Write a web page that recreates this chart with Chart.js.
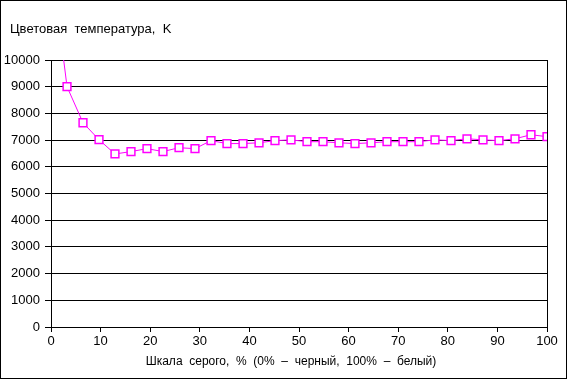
<!DOCTYPE html>
<html lang="ru">
<head>
  <meta charset="UTF-8" />
  <title>Цветовая температура</title>
  <script src="https://cdn.jsdelivr.net/npm/chart.js"></script>
  <style>
    body { margin: 0; background: #fff; }
    .wrap { position: relative; width: 567px; height: 379px; }
  </style>
</head>
<body>
  <div class="wrap"><canvas id="chart" width="567" height="379"></canvas></div>
  <script>
    // grey level, % (32 steps from black to white)
    const greyLevels = [
      0, 3.23, 6.45, 9.68, 12.9, 16.13, 19.35, 22.58, 25.81, 29.03,
      32.26, 35.48, 38.71, 41.94, 45.16, 48.39, 51.61, 54.84, 58.06, 61.29,
      64.52, 67.74, 70.97, 74.19, 77.42, 80.65, 83.87, 87.1, 90.32, 93.55,
      96.77, 100
    ];
    // colour temperature, K
    const colorTemp = [
      13800, 9000, 7650, 7015, 6480, 6570, 6680, 6570, 6715, 6680,
      6980, 6870, 6870, 6900, 6980, 7010, 6940, 6940, 6900, 6870,
      6900, 6940, 6940, 6940, 7010, 6980, 7050, 7010, 6980, 7050,
      7200, 7130
    ];
    const yTitle = "Цветовая  температура,  K";
    const xTitle = "Шкала  серого,  %  (0%  –  черный,  100%  –  белый)";

    const family = "'Liberation Sans', Arial, sans-serif";
    const tickFont = { family, size: 13 };

    const frame = {
      id: "frame",
      afterDraw(chart) {
        const { ctx, chartArea } = chart;
        ctx.save();
        ctx.strokeStyle = "#000";
        ctx.lineWidth = 1;
        ctx.strokeRect(0.5, 0.5, 566, 378);
        ctx.beginPath();
        ctx.moveTo(Math.round(chartArea.right) + 0.5, chartArea.top);
        ctx.lineTo(Math.round(chartArea.right) + 0.5, chartArea.bottom);
        ctx.stroke();
        ctx.fillStyle = "#000";
        ctx.textBaseline = "middle";
        ctx.font = "13px " + family;
        ctx.fillText(yTitle, 10, 29);
        ctx.font = "12px " + family;
        ctx.textAlign = "center";
        ctx.fillText(xTitle, 291, 362);
        ctx.restore();
      }
    };

    new Chart(document.getElementById("chart"), {
      type: "line",
      data: {
        datasets: [{
          data: greyLevels.map((x, i) => ({ x, y: colorTemp[i] })),
          borderColor: "#ff00ff",
          borderWidth: 1,
          pointStyle: "rect",
          pointRadius: 5.5,
          pointBorderWidth: 1.5,
          pointBackgroundColor: "#fff",
          pointBorderColor: "#ff00ff",
          tension: 0
        }]
      },
      options: {
        responsive: false,
        animation: false,
        layout: { padding: { top: 60, right: 20, left: 0, bottom: 0 } },
        plugins: { legend: { display: false }, tooltip: { enabled: false } },
        scales: {
          x: {
            type: "linear",
            min: 0, max: 100,
            afterFit: s => { s.height = 52; },
            grid: { drawOnChartArea: false, tickLength: 5, color: "#000" },
            border: { color: "#000" },
            ticks: { stepSize: 10, color: "#000", font: tickFont, padding: 2, maxRotation: 0 }
          },
          y: {
            min: 0, max: 10000,
            afterFit: s => { s.width = 51; },
            grid: { color: "#000", tickLength: 6 },
            border: { color: "#000" },
            ticks: { stepSize: 1000, color: "#000", font: tickFont, padding: 5, callback: v => String(v) }
          }
        }
      },
      plugins: [frame]
    });
  </script>
</body>
</html>
